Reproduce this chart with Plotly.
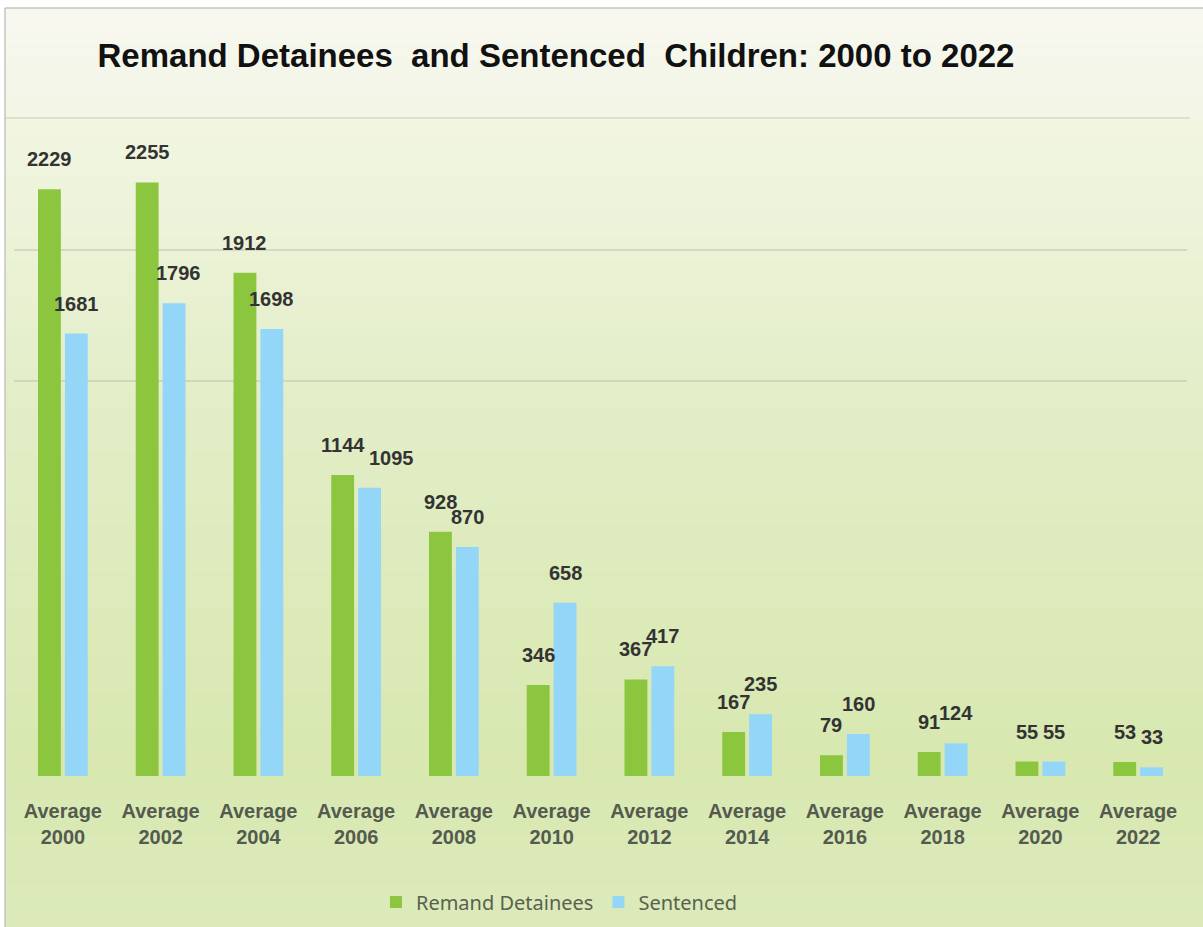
import plotly.graph_objects as go

# Data
years = ["2000", "2002", "2004", "2006", "2008", "2010",
         "2012", "2014", "2016", "2018", "2020", "2022"]
categories = ["<b>Average<br>" + y + "</b>" for y in years]
remand = [2229, 2255, 1912, 1144, 928, 346, 367, 167, 79, 91, 55, 53]
sentenced = [1681, 1796, 1698, 1095, 870, 658, 417, 235, 160, 124, 55, 33]

GREEN = "#8cc63e"
BLUE = "#93d6f8"
FONT = "Liberation Sans, Arial, sans-serif"

W, H = 1203, 927
M_L, M_R, M_T, M_B = 14, 16, 118, 151

fig = go.Figure()
fig.add_trace(go.Bar(name="Remand Detainees", x=categories, y=remand,
                     marker=dict(color=GREEN, line_width=0)))
fig.add_trace(go.Bar(name="Sentenced", x=categories, y=sentenced,
                     marker=dict(color=BLUE, line_width=0)))

# value labels above each bar (a few nudged sideways so neighbours don't collide)
OFF = 13.4
extra_shift = {("s", "2006"): 22, ("s", "2002"): 4}
for key, series, dx in (("r", remand, -OFF), ("s", sentenced, OFF)):
    for yr, cat, v in zip(years, categories, series):
        fig.add_annotation(x=cat, y=v, text="<b>%d</b>" % v, showarrow=False,
                           xshift=dx + extra_shift.get((key, yr), 0),
                           yshift=30, yanchor="middle",
                           font=dict(family=FONT, size=20, color="#333333"))

# vertical background gradient built from thin stripes (paper coordinates)
plot_h = H - M_T - M_B
plot_w = W - M_L - M_R


def py2paper(py):
    return (H - M_B - py) / plot_h


def px2paper(px):
    return (px - M_L) / plot_w


stops = [(8, (248, 248, 240)), (117, (243, 245, 230)), (119, (242, 246, 226)),
         (420, (226, 237, 198)), (760, (216, 232, 176)), (927, (220, 234, 186))]


def col_at(py):
    for (a, ca), (b, cb) in zip(stops[:-1], stops[1:]):
        if a <= py <= b:
            t = (py - a) / (b - a) if b > a else 0
            return tuple(round(ca[i] + (cb[i] - ca[i]) * t) for i in range(3))
    return stops[-1][1]


shapes = []
step = 6
py = 8
while py < H:
    c = col_at(py + step / 2)
    shapes.append(dict(type="rect", xref="paper", yref="paper", layer="below",
                       x0=px2paper(5), x1=px2paper(W + 5),
                       y0=py2paper(py), y1=py2paper(min(py + step + 2, H + 2)),
                       fillcolor="rgb(%d,%d,%d)" % c, line_width=0))
    py += step

# faint rule under the title band
shapes.append(dict(type="line", xref="paper", yref="paper", layer="below",
                   x0=px2paper(5), x1=px2paper(1190), y0=py2paper(118), y1=py2paper(118),
                   line=dict(color="rgba(205,210,190,0.8)", width=1.5)))

# frame on the top and left edges
shapes.append(dict(type="line", xref="paper", yref="paper", layer="above",
                   x0=px2paper(5), x1=px2paper(W + 5), y0=py2paper(8), y1=py2paper(8),
                   line=dict(color="#c4c4c4", width=1.5)))
shapes.append(dict(type="line", xref="paper", yref="paper", layer="above",
                   x0=px2paper(5), x1=px2paper(5), y0=py2paper(8), y1=py2paper(H + 2),
                   line=dict(color="#c4c4c4", width=1.5)))

fig.update_layout(
    width=W, height=H,
    margin=dict(l=M_L, r=M_R, t=M_T, b=M_B, autoexpand=False),
    paper_bgcolor="white",
    plot_bgcolor="rgba(0,0,0,0)",
    barmode="group", bargap=0.45, bargroupgap=0.15,
    shapes=shapes,
    title=dict(text="<b>Remand Detainees  and Sentenced  Children: 2000 to 2022</b>",
               x=556 / W, xref="container", xanchor="center",
               y=1 - 55 / H, yref="container", yanchor="middle",
               font=dict(family=FONT, size=33, color="#111111")),
    xaxis=dict(range=[-0.5, 11.5], showgrid=False, showline=False, zeroline=False,
               ticks="", ticklabelstandoff=21, automargin=False,
               tickfont=dict(family=FONT, size=20, color="#555a50")),
    yaxis=dict(range=[0, 2500], showticklabels=False, zeroline=False,
               automargin=False, tickvals=[1500, 2000], showgrid=True,
               gridcolor="rgba(195,200,180,0.6)", gridwidth=1.5),
    legend=dict(orientation="h", x=0.465, xanchor="center",
                y=1 - 902 / H, yref="container",
                yanchor="middle", bgcolor="rgba(0,0,0,0)",
                font=dict(family="Noto Sans, Open Sans", size=20, color="#5a6050"),
                itemwidth=30, traceorder="normal"),
    showlegend=True,
)

fig.write_html("out.html")
